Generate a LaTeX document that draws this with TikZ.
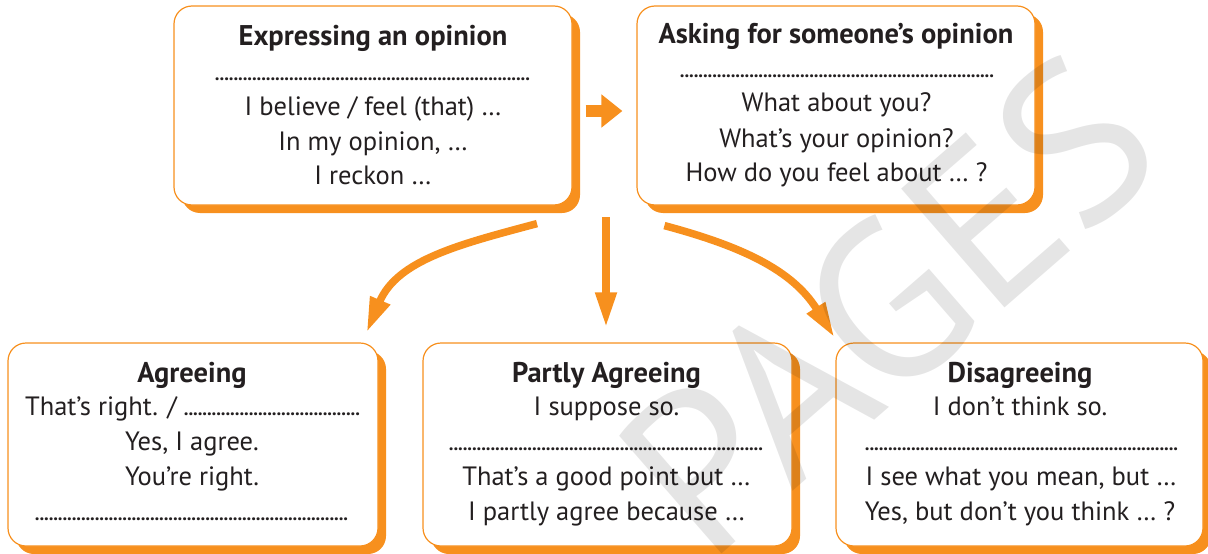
\documentclass[tikz,border=0pt]{standalone}
\usepackage{fontspec}
\setmainfont{PT Sans}
\usetikzlibrary{shadows,arrows.meta}

\definecolor{opor}{HTML}{F7901E}
\definecolor{ink}{HTML}{231F20}
\newcommand{\dotrow}[1]{\hbox to #1{\fontsize{19}{19}\selectfont\bfseries\xleaders\hbox to 4.6pt{\hss.\hss}\hfill}}

\begin{document}
\begin{tikzpicture}[x=1pt,y=-1pt,
	card/.style={draw=opor, line width=1.2pt, fill=white, rounded corners=18pt, inner sep=0pt,
		drop shadow={shadow xshift=8pt, shadow yshift=-8pt, fill=opor, opacity=1}},
	ln/.style={anchor=base, text=ink, inner sep=0pt, font=\fontsize{26.5}{30}\selectfont},
	hd/.style={ln, font=\fontsize{28.5}{30}\selectfont\bfseries},
	flow/.style={draw=opor, line width=7.5pt, -{Triangle[width=20pt,length=35pt]}},
	bigflow/.style={draw=opor, line width=12pt, -{Triangle[width=32pt,length=21pt]}}]
	\useasboundingbox (0,0) rectangle (1208,554);

		% the five boxes
		\node[card, minimum width=398pt, minimum height=199pt] (express) at (373,105.5) {};
		\node[card, minimum width=398pt, minimum height=199pt] (ask) at (836,105.5) {};
		\node[card, minimum width=370pt, minimum height=203pt] (agree) at (193,444.5) {};
		\node[card, minimum width=369pt, minimum height=203pt] (partly) at (607.5,444.5) {};
		\node[card, minimum width=367pt, minimum height=203pt] (disagree) at (1019.5,444.5) {};

		\node[hd] (express-t) at (373,45) {Expressing an opinion};
		\node[ln] (express-d) at (372.5,80) {\dotrow{315pt}};
		\node[ln] (express-1) at (373,115) {I believe / feel (that) …};
		\node[ln] (express-2) at (373,150) {In my opinion, …};
		\node[ln] (express-3) at (373,184) {I reckon …};

		\node[hd] (ask-t) at (836,43) {Asking for someone’s opinion};
		\node[ln] (ask-d) at (837,77) {\dotrow{314pt}};
		\node[ln] (ask-1) at (836.5,111) {What about you?};
		\node[ln] (ask-2) at (836.5,147) {What’s your opinion?};
		\node[ln] (ask-3) at (836.5,181) {How do you feel about … ?};

		\node[hd] (agree-t) at (192,382) {Agreeing};
		\node[ln] (agree-1) at (192.5,415) {That’s right. / \dotrow{176pt}};
		\node[ln] (agree-2) at (192,450) {Yes, I agree.};
		\node[ln] (agree-3) at (192,485) {You’re right.};
		\node[ln] (agree-d) at (191.5,520) {\dotrow{313pt}};

		\node[hd] (partly-t) at (606.5,382) {Partly Agreeing};
		\node[ln] (partly-1) at (606.5,415) {I suppose so.};
		\node[ln] (partly-d) at (606,450) {\dotrow{314pt}};
		\node[ln] (partly-2) at (606.5,485) {That’s a good point but …};
		\node[ln] (partly-3) at (606.5,520) {I partly agree because …};

		\node[hd] (disagree-t) at (1020,382) {Disagreeing};
		\node[ln] (disagree-1) at (1020,415) {I don’t think so.};
		\node[ln] (disagree-d) at (1021.5,450) {\dotrow{313pt}};
		\node[ln] (disagree-2) at (1021,485) {I see what you mean, but …};
		\node[ln] (disagree-3) at (1020,520) {Yes, but don’t you think … ?};

		% arrows
		\coordinate (fork) at (606,217);
		\draw[bigflow] ([xshift=13pt,yshift=-5.5pt]express.east) -- ([xshift=-14pt,yshift=-5.5pt]ask.west);
		\draw[flow] ([xshift=164pt,yshift=-18pt]express.south) to[out=195,in=67] ([xshift=-12pt,yshift=10pt]agree.north east);
		\draw[flow, shorten >=15pt] (fork) -- (fork |- partly.north);
		\draw[flow] ([xshift=28pt,yshift=-20pt]ask.south west) to[out=-15,in=122] ([xshift=-1pt,yshift=5pt]disagree.north west);

		\node[rotate=41, text=black, text opacity=0.1, font=\fontsize{225}{225}\selectfont] (mark) at (888,305) {PAGES};

	\end{tikzpicture}
\end{document}
